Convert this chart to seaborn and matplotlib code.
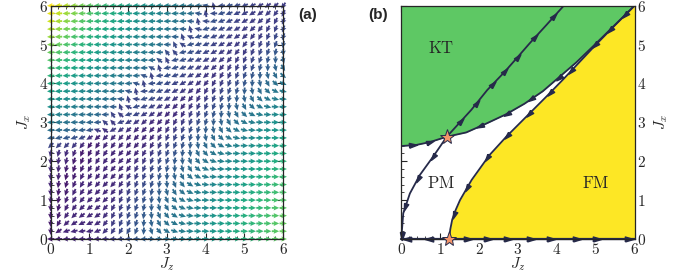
import numpy as np
import pandas as pd
import matplotlib
matplotlib.use('Agg')
import matplotlib.pyplot as plt
from matplotlib.colors import Normalize
from matplotlib.ticker import MultipleLocator, FuncFormatter
import seaborn as sns

# phase boundaries  (Jz, Jx)
kt_left_z = [0.0, 0.39, 0.73, 1.17]
kt_left_x = [2.39, 2.42, 2.49, 2.63]
kt_right_z = [1.17, 1.67, 2.19, 2.70, 3.17, 3.64, 4.07, 4.50, 5.00, 5.50, 6.00]
kt_right_x = [2.63, 2.74, 2.97, 3.21, 3.48, 3.80, 4.17, 4.54, 5.02, 5.51, 6.00]
fm_z = [1.23, 1.26, 1.31, 1.40, 1.51, 1.81, 2.27, 2.70, 3.21, 3.73, 4.16, 4.50, 5.00, 5.50, 6.00]
fm_x = [0.00, 0.25, 0.50, 0.75, 1.00, 1.52, 2.16, 2.63, 3.14, 3.66, 4.10, 4.46, 4.99, 5.50, 6.00]
sep_up_z = [1.17, 1.80, 2.21, 2.66, 2.96, 3.30, 3.73, 4.18]
sep_up_x = [2.63, 3.32, 3.83, 4.30, 4.64, 5.03, 5.50, 6.00]
sep_down_z = [1.17, 0.82, 0.48, 0.22, 0.05, 0.01, 0.0]
sep_down_x = [2.63, 2.12, 1.65, 1.17, 0.66, 0.15, 0.0]
axis_z = [0.0, 1.23, 6.0]
fixed_z = [1.17, 1.23]
fixed_x = [2.63, 0.0]
phase_names = ['KT', 'PM', 'FM']

grid = np.arange(0, 6.01, 0.2)

dark = '#262a4a'
green = '#5ec864'
yellow = '#fde725'
star_col = '#f4956a'

sns.set_style('ticks')
plt.rcParams['mathtext.fontset'] = 'cm'
plt.rcParams['font.family'] = ['DejaVu Serif']

kt_z = np.array(kt_left_z + kt_right_z[1:])
kt_x = np.array(kt_left_x + kt_right_x[1:])
sep_z = np.array(sep_down_z[::-1] + sep_up_z[1:])
sep_x = np.array(sep_down_x[::-1] + sep_up_x[1:])


def flow_field(Z, X):
    # direction / strength of the flow, built around the boundaries above
    k = X - np.interp(Z, kt_z, kt_x)
    f = Z - np.interp(X, fm_x, fm_z)
    s = Z - np.interp(X, sep_x, sep_z)
    w_kt = 1 / (1 + np.exp(-k / 0.12))
    w_fm = 1 / (1 + np.exp(-f / 0.12))
    w_pm = (1 - w_kt) * (1 - w_fm)

    th_kt = np.where(s < 0, 182.0, 190 + 35 * np.clip(s / 2, 0, 1))
    th_kt = np.radians(th_kt)
    line = np.exp(-(s / 0.15) ** 2) * (X > 2.6)
    u_kt = (1 - line) * np.cos(th_kt) + line * (-0.2)
    v_kt = (1 - line) * np.sin(th_kt) + line * 1.0

    turn = np.clip((f - 0.7) / 1.8, 0, 1)
    turn = turn * turn * (3 - 2 * turn)
    th_fm = np.radians(250 + 110 * turn)
    r = np.hypot(Z, X) + 1e-9
    U = w_kt * u_kt + w_fm * np.cos(th_fm) + w_pm * (-Z / r)
    V = w_kt * v_kt + w_fm * np.sin(th_fm) + w_pm * (-X / r)
    V = V * np.tanh(X / 0.25)
    n = np.hypot(U, V) + 1e-9

    m_kt = 0.15 + 0.85 * np.clip((X - 1.6) / 4.4, 0, 1) * np.exp(-0.35 * Z) \
        * np.exp(-np.clip(s, 0, None))
    m_fm = 0.15 + 0.13 * np.clip(f, 0, None)
    mag = w_kt * m_kt + w_fm * m_fm + w_pm * 0.12
    mag = mag * (1 - 0.4 * np.exp(-(s / 0.25) ** 2))
    return U / n, V / n, mag


def arrow_heads(ax, zs, xs, fracs, size=6):
    zs = np.asarray(zs, float)
    xs = np.asarray(xs, float)
    seg = np.hypot(np.diff(zs), np.diff(xs))
    cum = np.concatenate([[0], np.cumsum(seg)])
    for fr in fracs:
        d = fr * cum[-1]
        i = min(np.searchsorted(cum, d) - 1, len(seg) - 1)
        i = max(i, 0)
        t = (d - cum[i]) / seg[i]
        pz = zs[i] + t * (zs[i + 1] - zs[i])
        px = xs[i] + t * (xs[i + 1] - xs[i])
        ang = np.arctan2(xs[i + 1] - xs[i], zs[i + 1] - zs[i])
        base = np.array([[-1, -0.6], [1, 0], [-1, 0.6], [-1, -0.6]])
        rot = np.array([[np.cos(ang), -np.sin(ang)], [np.sin(ang), np.cos(ang)]])
        verts = base @ rot.T
        ax.plot(pz, px, marker=verts, ms=size, color=dark, mec=dark,
                ls='none', clip_on=False, zorder=5)


fig = plt.figure(figsize=(6.86, 2.75), dpi=100)
ax1 = fig.add_axes([0.0739, 0.1309, 0.339, 0.8485])
ax2 = fig.add_axes([0.585, 0.1309, 0.340, 0.8485])

# (a) flow field
Z, X = np.meshgrid(grid, grid)
U, V, M = flow_field(Z, X)
ax1.quiver(Z, X, U, V, M, cmap='viridis', norm=Normalize(0, 1),
           pivot='mid', angles='xy', scale_units='xy', scale=1 / 0.19,
           width=0.008, headwidth=2.8, headlength=3.0, headaxislength=2.7,
           clip_on=False, zorder=3)

# (b) phase diagram
ax2.fill_between(kt_z, kt_x, 6, color=green, lw=0, zorder=1)
ax2.fill_betweenx(fm_x, fm_z, 6, color=yellow, lw=0, zorder=1)
curves = [(kt_left_z, kt_left_x), (kt_right_z, kt_right_x), (fm_z, fm_x),
          (sep_up_z, sep_up_x), (sep_down_z, sep_down_x)]
for cz, cx in curves:
    sns.lineplot(x=cz, y=cx, sort=False, color=dark, lw=1.3, ax=ax2, zorder=4)
ax2.plot(axis_z, [0] * len(axis_z), color=dark, lw=1.6, clip_on=False, zorder=4)

arrow_heads(ax2, kt_left_z, kt_left_x, [0.25, 0.62])
arrow_heads(ax2, kt_right_z[::-1], kt_right_x[::-1], [0.06, 0.15, 0.24, 0.45, 0.6, 0.72, 0.85])
arrow_heads(ax2, fm_z[::-1], fm_x[::-1], [0.3, 0.4, 0.5, 0.6, 0.7, 0.82, 0.92])
arrow_heads(ax2, sep_up_z, sep_up_x, [0.12, 0.26, 0.4, 0.5, 0.61, 0.76, 0.92])
arrow_heads(ax2, sep_down_z, sep_down_x, [0.22, 0.45, 0.72, 0.97])
arrow_heads(ax2, axis_z[1::-1], [0, 0], [0.42, 0.88])
arrow_heads(ax2, axis_z[1:], [0, 0], [0.1, 0.21, 0.32, 0.44, 0.55, 0.69, 0.8, 0.97])
ax2.plot(fixed_z, fixed_x, ls='none', marker='*', ms=11, mfc=star_col, mec=dark,
         mew=0.7, clip_on=False, zorder=7)

ax2.text(1.03, 4.9, r'$\mathrm{%s}$' % phase_names[0], ha='center', va='center',
         fontsize=12, zorder=6)
ax2.text(1.03, 1.43, r'$\mathrm{%s}$' % phase_names[1], ha='center', va='center',
         fontsize=12, zorder=6)
ax2.text(5.0, 1.43, r'$\mathrm{%s}$' % phase_names[2], ha='center', va='center',
         fontsize=12, zorder=6)

fmt = FuncFormatter(lambda v, p: r'$%d$' % round(v))
for ax in (ax1, ax2):
    ax.set_xlim(0, 6)
    ax.set_ylim(0, 6)
    ax.xaxis.set_major_locator(MultipleLocator(1))
    ax.yaxis.set_major_locator(MultipleLocator(1))
    ax.xaxis.set_minor_locator(MultipleLocator(0.2))
    ax.yaxis.set_minor_locator(MultipleLocator(0.2))
    ax.xaxis.set_major_formatter(fmt)
    ax.yaxis.set_major_formatter(fmt)
    ax.tick_params(which='both', direction='in', top=True, bottom=True,
                   left=True, right=True, labelsize=11, pad=2)
    ax.tick_params(which='major', length=4, width=0.8)
    ax.tick_params(which='minor', length=2, width=0.6)
    for sp in ax.spines.values():
        sp.set_linewidth(0.9)
        sp.set_zorder(6)
    ax.set_xlabel(r'$J_z$', fontsize=11, labelpad=-1)

ax1.set_ylabel(r'$J_x$', fontsize=11, labelpad=4)
ax2.tick_params(labelleft=False, labelright=True)
ax2.yaxis.set_label_position('right')
ax2.set_ylabel(r'$J_x$', fontsize=11, labelpad=4)

fig.text(0.449, 0.945, '(a)', ha='center', va='center', fontsize=11,
         fontweight='bold', family='Liberation Sans')
fig.text(0.551, 0.945, '(b)', ha='center', va='center', fontsize=11,
         fontweight='bold', family='Liberation Sans')

fig.savefig('out.png', dpi=100)
